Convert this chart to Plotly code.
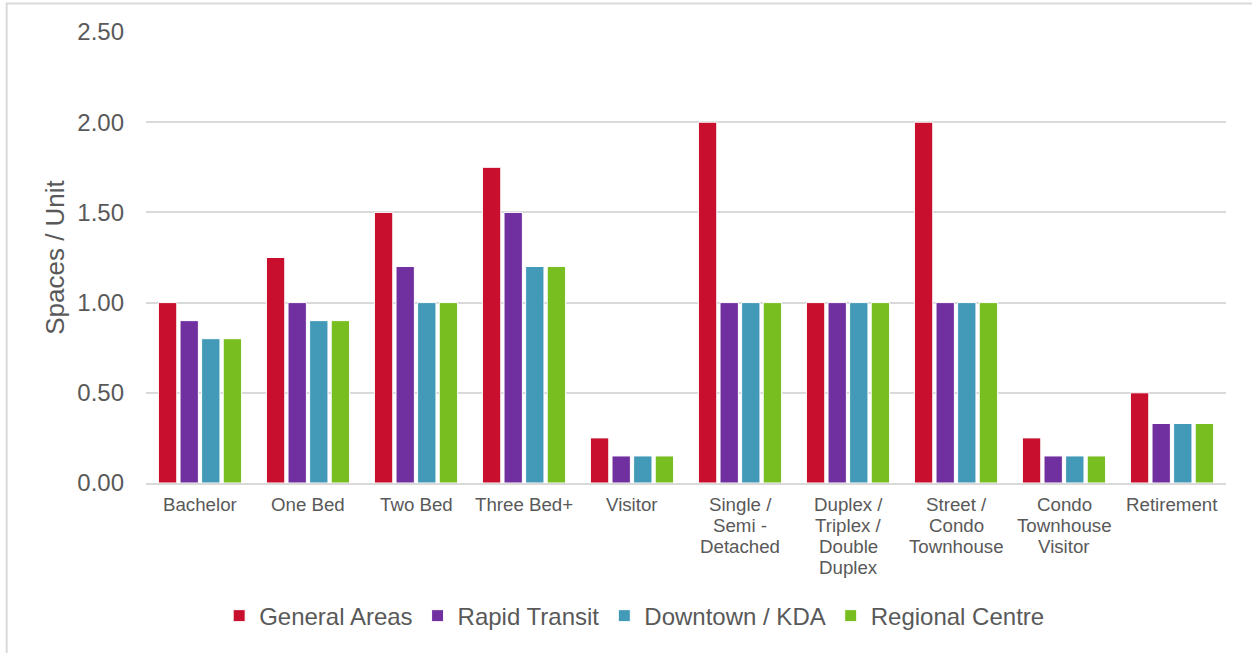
import plotly.graph_objects as go

categories = [
    "Bachelor", "One Bed", "Two Bed", "Three Bed+", "Visitor",
    "Single /<br>Semi -<br>Detached",
    "Duplex /<br>Triplex /<br>Double<br>Duplex",
    "Street /<br>Condo<br>Townhouse",
    "Condo<br>Townhouse<br>Visitor",
    "Retirement",
]
general_areas = [1.00, 1.25, 1.50, 1.75, 0.25, 2.00, 1.00, 2.00, 0.25, 0.50]
rapid_transit = [0.90, 1.00, 1.20, 1.50, 0.15, 1.00, 1.00, 1.00, 0.15, 0.33]
downtown_kda = [0.80, 0.90, 1.00, 1.20, 0.15, 1.00, 1.00, 1.00, 0.15, 0.33]
regional_centre = [0.80, 0.90, 1.00, 1.20, 0.15, 1.00, 1.00, 1.00, 0.15, 0.33]
y_ticks = [0.0, 0.5, 1.0, 1.5, 2.0, 2.5]

series = [
    ("General Areas", general_areas, "#C8102E"),
    ("Rapid Transit", rapid_transit, "#7030A0"),
    ("Downtown / KDA", downtown_kda, "#4399B8"),
    ("Regional Centre", regional_centre, "#78BE20"),
]

grey = "#595959"

fig = go.Figure()
for name, vals, color in series:
    fig.add_trace(go.Bar(
        x=categories, y=vals, name=name,
        marker=dict(color=color, line=dict(color="white", width=1)),
    ))

# Category labels: one annotation per text line for tighter line spacing
label_font = dict(size=18.7, color=grey)
line_step = 21.3
annotations = []
for cat in categories:
    for i, line in enumerate(cat.split("<br>")):
        annotations.append(dict(
            x=cat, y=0, xref="x", yref="y", text=line, showarrow=False,
            xanchor="center", yanchor="middle", yshift=-(21 + i * line_step),
            font=label_font,
        ))

fig.update_layout(
    width=1252, height=653,
    margin=dict(l=146, r=26, t=32, b=170),
    paper_bgcolor="white", plot_bgcolor="white",
    font=dict(family="Liberation Sans, Arial, sans-serif", color=grey),
    barmode="group", bargap=0.2, bargroupgap=0.15,
    showlegend=True,
    legend=dict(
        orientation="h", x=0.452, xanchor="center", y=-0.295, yanchor="middle",
        font=dict(size=24, color=grey), itemwidth=30, traceorder="normal",
    ),
    xaxis=dict(
        showgrid=False, showline=True, linecolor="#d9d9d9", linewidth=2,
        showticklabels=False, ticks="",
    ),
    yaxis=dict(
        range=[0, 2.5], tickvals=y_ticks, tickformat=".2f",
        showgrid=True, gridcolor="#d9d9d9", gridwidth=1.5,
        zeroline=False, showline=False,
        tickfont=dict(size=24, color=grey), ticklabelstandoff=21,
        title=dict(text="Spaces / Unit", font=dict(size=26, color=grey), standoff=5),
    ),
    annotations=annotations,
    shapes=[dict(
        type="rect", xref="paper", yref="paper",
        x0=-0.129, x1=1.2, y0=-0.6, y1=1.063,
        line=dict(color="#d9d9d9", width=2), fillcolor="rgba(0,0,0,0)", layer="below",
    )],
)

fig.write_html("out.html")
